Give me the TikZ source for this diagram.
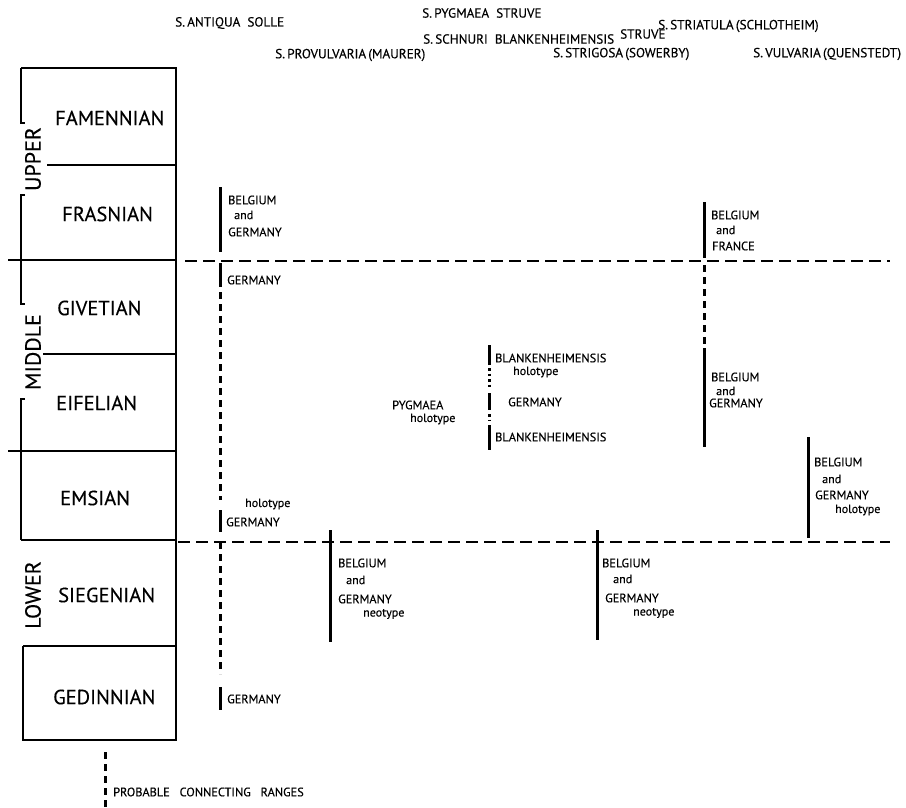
\documentclass[tikz,border=0pt]{standalone}
\usepackage{fontspec}
\setmainfont{PT Sans}[FakeBold=0.25,AutoFakeBold=0.25]
\begin{document}
\begin{tikzpicture}[x=1pt,y=-1pt,
  frame/.style={line width=1.8pt},
  bar/.style={line width=3pt},
  prob/.style={line width=3pt, dash pattern=on 7pt off 5pt},
  dotbar/.style={line width=3pt, dash pattern=on 2.5pt off 3pt},
  bound/.style={line width=1.8pt, dash pattern=on 12pt off 6pt},
  stage/.style={font=\fontsize{20.5}{21}\selectfont, anchor=west, inner sep=0pt},
  epoch/.style={font=\fontsize{22}{22}\selectfont, rotate=90, inner sep=0pt},
  top/.style={font=\fontsize{13.2}{14}\selectfont, anchor=west, inner sep=0pt},
  lbl/.style={font=\fontsize{12.3}{13}\selectfont, anchor=west, inner sep=0pt},
  sm/.style={font=\fontsize{12}{13}\selectfont, anchor=west, inner sep=0pt}]
\useasboundingbox (0,0) rectangle (906,807);

% ---------- frame ----------
\coordinate (tl) at (21,68); \coordinate (tr) at (176,68);
\coordinate (br) at (176,740); \coordinate (bl) at (23,740);
\draw[frame] (tl) -- (tr) -- (br) -- (bl) -- (23,646);
\draw[frame] (tl) -- (21,123) -- (25,123);
\draw[frame] (25,195) -- (21,195) -- (21,304) -- (25,304);
\draw[frame] (25,399) -- (21,399) -- (21,540);
\draw[frame] (47,165) -- (176,165);
\draw[frame] (8,260) -- (176,260);
\draw[frame] (43,354) -- (176,354);
\draw[frame] (8,451) -- (176,451);
\draw[frame] (21,540) -- (176,540);
\draw[frame] (23,646) -- (176,646);

\node[epoch] (upper) at (33,159) {UPPER};
\node[epoch] (middle) at (33,352) {MIDDLE};
\node[epoch] (lower) at (33,595) {LOWER};

\node[stage] (fam) at (55,118) {FAMENNIAN};
\node[stage] (fra) at (62,214) {FRASNIAN};
\node[stage] (giv) at (57,308) {GIVETIAN};
\node[stage] (eif) at (56,403) {EIFELIAN};
\node[stage] (ems) at (60,498) {EMSIAN};
\node[stage] (sie) at (58,595) {SIEGENIAN};
\node[stage] (ged) at (53,697) {GEDINNIAN};

% ---------- species names ----------
\node[top] (antiqua) at (175,23) {S.\,ANTIQUA\ \ SOLLE};
\node[top] (pygmaea) at (422,13) {S.\,PYGMAEA\ \ STRUVE};
\node[top] (schnuri) at (423,39) {S.\,SCHNURI\ \ BLANKENHEIMENSIS};
\node[top] (struve) at (620,34) {STRUVE};
\node[top] (provul) at (275,55) {S.\,PROVULVARIA\,(MAURER)};
\node[top] (striat) at (658,26) {S.\,STRIATULA\,(SCHLOTHEIM)};
\node[top] (strig) at (553,54) {S.\,STRIGOSA\,(SOWERBY)};
\node[top] (vulv) at (753,54) {S.\,VULVARIA\,(QUENSTEDT)};

% ---------- boundary dashed lines ----------
\coordinate (b1a) at (185,261); \coordinate (b1b) at (890,261);
\coordinate (b2a) at (178,542); \coordinate (b2b) at (890,542);
\draw[bound] (b1a) -- (b1b);
\draw[bound] (b2a) -- (b2b);

% ---------- column 1 (antiqua) ----------
\draw[bar] (220,187) -- (220,252);
\node[lbl] (c1a) at (228,200) {BELGIUM};
\node[sm] (c1b) at (234,215) {and};
\node[lbl] (c1c) at (228,232) {GERMANY};
\draw[bar] (220,263) -- (220,287);
\node[lbl] (c1d) at (227,280) {GERMANY};
\draw[prob] (220,292) -- (220,500);
\draw[bar] (220,510) -- (220,532);
\node[sm] (c1e) at (245,504) {holotype};
\node[lbl] (c1f) at (226,522) {GERMANY};
\draw[prob] (220,542) -- (220,674);
\draw[bar] (220,687) -- (220,710);
\node[lbl] (c1g) at (227,699) {GERMANY};

% ---------- column provulvaria ----------
\draw[bar] (330,530) -- (330,642);
\node[lbl] (c2a) at (338,563) {BELGIUM};
\node[sm] (c2b) at (346,580) {and};
\node[lbl] (c2c) at (338,599) {GERMANY};
\node[sm] (c2d) at (363,614) {neotype};

% ---------- pygmaea / blankenheimensis ----------
\node[lbl] (c3p) at (392,405) {PYGMAEA};
\node[sm] (c3h) at (410,419) {holotype};
\draw[bar] (489,345) -- (489,365);
\draw[dotbar] (489,368) -- (489,388);
\draw[bar] (489,393) -- (489,410);
\draw[dotbar] (489,414) -- (489,421);
\draw[bar] (489,425) -- (489,450);
\node[lbl] (c3a) at (495,358) {BLANKENHEIMENSIS};
\node[sm] (c3b) at (513,372) {holotype};
\node[lbl] (c3c) at (508,402) {GERMANY};
\node[lbl] (c3d) at (495,437) {BLANKENHEIMENSIS};

% ---------- strigosa ----------
\draw[bar] (597,530) -- (597,640);
\node[lbl] (c4a) at (602,563) {BELGIUM};
\node[sm] (c4b) at (613,579) {and};
\node[lbl] (c4c) at (605,598) {GERMANY};
\node[sm] (c4d) at (633,613) {neotype};

% ---------- striatula ----------
\draw[bar] (704,202) -- (704,258);
\node[lbl] (c5a) at (711,215) {BELGIUM};
\node[sm] (c5b) at (716,230) {and};
\node[lbl] (c5c) at (712,246) {FRANCE};
\draw[prob] (704,265) -- (704,345);
\draw[bar] (704,348) -- (704,447);
\node[lbl] (c5d) at (711,377) {BELGIUM};
\node[sm] (c5e) at (716,391) {and};
\node[lbl] (c5f) at (709,403) {GERMANY};

% ---------- vulvaria ----------
\draw[bar] (808,437) -- (808,538);
\node[lbl] (c6a) at (814,462) {BELGIUM};
\node[sm] (c6b) at (822,479) {and};
\node[lbl] (c6c) at (815,495) {GERMANY};
\node[sm] (c6d) at (835,510) {holotype};

% ---------- legend ----------
\draw[prob] (105,752) -- (105,807);
\node[lbl] (leg) at (113,792) {PROBABLE\ \ \ CONNECTING\ \ \ RANGES};
\end{tikzpicture}
\end{document}
